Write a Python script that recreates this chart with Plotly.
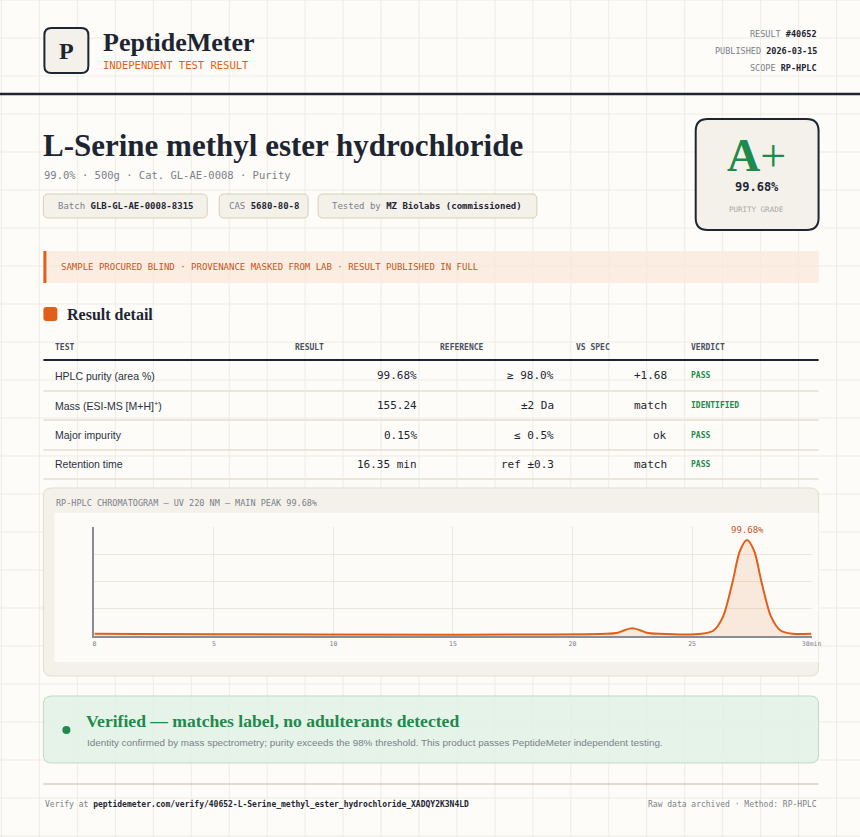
import plotly.graph_objects as go

W, H = 860, 837

# ---- data ----
rt_min = [0, 21.4, 21.9, 22.2, 22.5, 22.8, 23.1, 23.6, 25.4, 25.9, 26.3, 26.7, 27.0, 27.3, 27.6, 27.9, 28.3, 28.7, 29.2, 30]
signal = [2, 2, 3, 5.5, 7, 5.5, 3, 2, 2, 5, 18, 50, 78, 88, 78, 50, 18, 5, 2, 2]
x_ticks = [0, 5, 10, 15, 20, 25, 30]
x_tick_labels = ["0", "5", "10", "15", "20", "25", "30min"]
main_peak_rt = 27.3
main_peak_label = "99.68%"

table_headers = ["TEST", "RESULT", "REFERENCE", "VS SPEC", "VERDICT"]
tests = ["HPLC purity (area %)", "Mass (ESI-MS [M+H]<sup>+</sup>)", "Major impurity", "Retention time"]
results = ["99.68%", "155.24", "0.15%", "16.35 min"]
references = ["≥ 98.0%", "±2 Da", "≤ 0.5%", "ref ±0.3"]
vs_spec = ["+1.68", "match", "ok", "match"]
verdicts = ["PASS", "IDENTIFIED", "PASS", "PASS"]

DARK = "#1d2533"
ORANGE = "#e0601a"
GREEN = "#1e8a4c"
GRAY = "#7b808a"
SERIF = "Liberation Serif"
MONO = "DejaVu Sans Mono"
SANS = "Liberation Sans"

fig = go.Figure()
shapes, ann = [], []

# the viewer compresses the page horizontally a little; compensate
SX = (818 - 43) / (808 - 43)
def px(x): return (43 + (x - 43) * SX) / W
def py(y): return 1 - y / H

def rect(x0, y0, x1, y1, fill, line=None, lw=1, r=0):
    if r:
        path = (f"M {px(x0+r)} {py(y0)} L {px(x1-r)} {py(y0)} Q {px(x1)} {py(y0)} {px(x1)} {py(y0+r)} "
                f"L {px(x1)} {py(y1-r)} Q {px(x1)} {py(y1)} {px(x1-r)} {py(y1)} L {px(x0+r)} {py(y1)} "
                f"Q {px(x0)} {py(y1)} {px(x0)} {py(y1-r)} L {px(x0)} {py(y0+r)} Q {px(x0)} {py(y0)} {px(x0+r)} {py(y0)} Z")
        shapes.append(dict(type="path", path=path, xref="paper", yref="paper", fillcolor=fill,
                           line=dict(color=line or fill, width=lw if line else 0), layer="below"))
    else:
        shapes.append(dict(type="rect", x0=px(x0), x1=px(x1), y0=py(y0), y1=py(y1), xref="paper", yref="paper",
                           fillcolor=fill, line=dict(color=line or fill, width=lw if line else 0), layer="below"))

def hline(x0, x1, y, color, w):
    shapes.append(dict(type="line", x0=px(x0), x1=px(x1), y0=py(y), y1=py(y), xref="paper", yref="paper",
                       line=dict(color=color, width=w), layer="below"))

def text(x, y, s, size, color, family, anchor="left"):
    ann.append(dict(x=px(x), y=py(y), xref="paper", yref="paper", text=s, showarrow=False,
                    xanchor=anchor, yanchor="middle", font=dict(size=size, color=color, family=family)))

# background grid
for gx in range(0, W + 1, 38):
    shapes.append(dict(type="line", x0=px(gx), x1=px(gx), y0=0, y1=1, xref="paper", yref="paper",
                       line=dict(color="#efece4", width=1), layer="below"))
for gy in range(0, H + 1, 38):
    hline(-20, W + 20, gy, "#efece4", 1)

# header
rect(43, 28, 87, 73, "#f4f1ea", DARK, 2, 7)
text(65, 51, "<b>P</b>", 24, DARK, SERIF, "center")
text(100, 42, "<b>PeptideMeter</b>", 26, DARK, SERIF)
text(100, 65, "INDEPENDENT TEST RESULT", 10.5, ORANGE, MONO)
text(818, 34, "RESULT <b style='color:#1d2533'>#40652</b>", 8.5, GRAY, MONO, "right")
text(818, 51, "PUBLISHED <b style='color:#1d2533'>2026-03-15</b>", 8.5, GRAY, MONO, "right")
text(818, 68, "SCOPE <b style='color:#1d2533'>RP-HPLC</b>", 8.5, GRAY, MONO, "right")
hline(-20, W + 20, 94, DARK, 2.5)

# title block
text(40, 146, "<b>L-Serine methyl ester hydrochloride</b>", 31, DARK, SERIF)
text(41, 175, "99.0% · 500g · Cat. GL-AE-0008 · Purity", 10.5, GRAY, MONO)
for (x0, x1, s) in [(42, 206, "Batch <b style='color:#1d2533'>GLB-GL-AE-0008-8315</b>"),
                    (218, 307, "CAS <b style='color:#1d2533'>5680-80-8</b>"),
                    (317, 536, "Tested by <b style='color:#1d2533'>MZ Biolabs (commissioned)</b>")]:
    rect(x0, 194, x1, 218, "#f4f1ea", "#d8cfb8", 1, 5)
    text((x0 + x1) / 2, 206, s, 9, GRAY, MONO, "center")

# grade box
rect(695, 119, 818, 230, "#f4f1ea", DARK, 2, 12)
text(756, 156, "<b>A</b>+", 46, GREEN, SERIF, "center")
text(756, 187, "<b>99.68%</b>", 12, DARK, MONO, "center")
text(756, 209, "PURITY GRADE", 7.5, "#a9a9a6", MONO, "center")

# banner
rect(42, 251, 818, 283, "rgba(250,232,218,0.75)")
rect(42, 251, 45, 283, ORANGE)
text(58, 267, "SAMPLE PROCURED BLIND · PROVENANCE MASKED FROM LAB · RESULT PUBLISHED IN FULL", 9, "#c4561c", MONO)

# result detail
rect(42, 307, 56, 321, ORANGE, None, 1, 3)
text(64, 314, "<b>Result detail</b>", 16, DARK, SERIF)

hx = [52, 292, 437, 573, 688]
for x, h in zip(hx, table_headers):
    text(x, 347, f"<b>{h}</b>", 8, "#4a5060", MONO)
hline(42, 818, 360, DARK, 2)
row_y = [376, 405, 435, 464]
for i, y in enumerate(row_y):
    text(52, y, tests[i], 10.5, "#2a3140", SANS)
    text(418, y, results[i], 11, DARK, MONO, "right")
    text(555, y, references[i], 11, DARK, MONO, "right")
    text(668, y, vs_spec[i], 11, DARK, MONO, "right")
    text(688, y, f"<b>{verdicts[i]}</b>", 8, GREEN, MONO)
    hline(42, 818, y + 15, "#e6dfd0", 1.5)

# chromatogram panel
rect(42, 488, 818, 676, "#f4f1ea", "#e4ddcd", 1, 8)
rect(53, 513, 818, 662, "#fdfbf7")
text(53, 503, "RP-HPLC CHROMATOGRAM — UV 220 NM — MAIN PEAK 99.68%", 8.5, GRAY, MONO)

fig.add_trace(go.Scatter(x=rt_min, y=signal, mode="lines", line=dict(color=ORANGE, width=2, shape="spline", smoothing=0.8),
                         fill="tozeroy", fillcolor="rgba(224,96,26,0.12)", hoverinfo="skip", showlegend=False))
ann.append(dict(x=main_peak_rt, y=signal[rt_min.index(main_peak_rt)], xref="x", yref="y", text=main_peak_label,
                showarrow=False, yanchor="bottom", yshift=3, font=dict(size=9, color="#c4561c", family=MONO)))

# verified box
rect(42, 696, 818, 763, "rgba(226,241,229,0.85)", "#bcdcc5", 1, 8)
shapes.append(dict(type="circle", x0=px(61), x1=px(69), y0=py(726), y1=py(734), xref="paper", yref="paper",
                   fillcolor=GREEN, line=dict(width=0)))
text(83, 721, "<b>Verified — matches label, no adulterants detected</b>", 17.6, GREEN, SERIF)
text(84, 742, "Identity confirmed by mass spectrometry; purity exceeds the 98% threshold. This product passes PeptideMeter independent testing.", 9.9, GRAY, SANS)

hline(42, 818, 784, "#d8cfb8", 1.5)
text(42, 804, "Verify at <b style='color:#1d2533'>peptidemeter.com/verify/40652-L-Serine_methyl_ester_hydrochloride_XADQY2K3N4LD</b>", 8, GRAY, MONO)
text(818, 804, "Raw data archived · Method: RP-HPLC", 8, GRAY, MONO, "right")

fig.update_layout(
    width=W, height=H, margin=dict(l=0, r=0, t=0, b=0), autosize=False,
    paper_bgcolor="#fdfcf8", plot_bgcolor="rgba(0,0,0,0)",
    shapes=shapes, annotations=ann, showlegend=False,
    xaxis=dict(domain=[px(93), px(811)], range=[0, 30], tickvals=x_ticks, ticktext=x_tick_labels,
               tickfont=dict(size=6.5, color=GRAY, family=MONO), showgrid=True, gridcolor="#ece7dc",
               showline=True, linecolor="#8a8d93", linewidth=2, zeroline=False, ticks="", fixedrange=True),
    yaxis=dict(domain=[py(636), py(527)], range=[0, 100], tickvals=[0, 25, 50, 75, 100], showticklabels=False,
               showgrid=True, gridcolor="#ece7dc", showline=True, linecolor="#8a8d93", linewidth=2,
               zeroline=False, ticks="", fixedrange=True),
)
fig.write_html("out.html", default_width=f"{W}px", default_height=f"{H}px",
               config={"responsive": False, "displayModeBar": False})
with open("out.html", encoding="utf-8") as f:
    html = f.read()
html = html.replace("<head>", "<head><style>html,body{margin:0;padding:0;overflow:hidden;background:#fdfcf8}</style>", 1)
with open("out.html", "w", encoding="utf-8") as f:
    f.write(html)
